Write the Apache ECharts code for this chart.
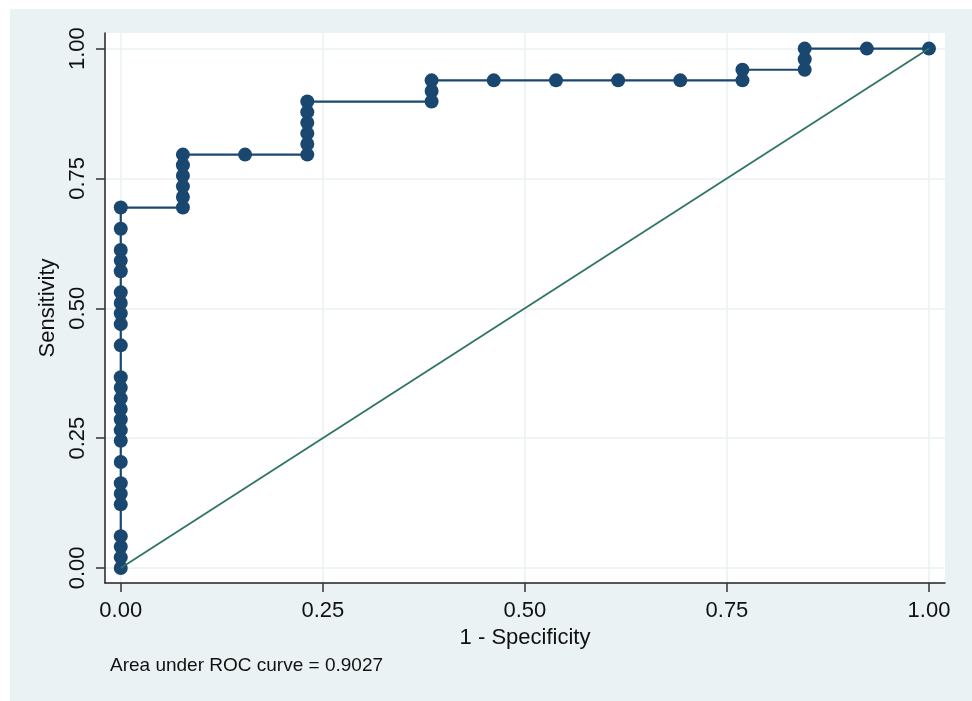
<!DOCTYPE html>
<html>
<head>
<meta charset="utf-8">
<script src="https://cdn.jsdelivr.net/npm/echarts@6/dist/echarts.min.js"></script>
<style>
html,body{margin:0;padding:0;background:#ffffff;}
#chart{width:972px;height:701px;}
</style>
</head>
<body>
<div id="chart"></div>
<script>
// 1 - Specificity values of ROC points (in order along the curve)
const fpr = [
  0,0,0,0,0,0,0,0,0,0,0,0,0,0,0,0,0,0,0,0,0,0,0,0,0,
  0.0769,0.0769,0.0769,0.0769,0.0769,0.0769,
  0.1538,
  0.2308,0.2308,0.2308,0.2308,0.2308,0.2308,
  0.3846,0.3846,0.3846,
  0.4615,0.5385,0.6154,0.6923,
  0.7692,0.7692,
  0.8462,0.8462,0.8462,
  0.9231,
  1.0
];
// Sensitivity values of ROC points
const sens = [
  0,0.0204,0.0408,0.0612,0.1224,0.1429,0.1633,0.2041,0.2449,0.2653,0.2857,0.3061,0.3265,0.3469,0.3673,0.4286,0.4694,0.4898,0.5102,0.5306,0.5714,0.5918,0.6122,0.6531,0.6939,
  0.6939,0.7143,0.7347,0.7551,0.7755,0.7959,
  0.7959,
  0.7959,0.8163,0.8367,0.8571,0.8776,0.8980,
  0.8980,0.9184,0.9388,
  0.9388,0.9388,0.9388,0.9388,
  0.9388,0.9592,
  0.9592,0.9796,1.0,
  1.0,
  1.0
];
const refX = [0, 1];
const refY = [0, 1];
const tickVals = [0, 0.25, 0.5, 0.75, 1];
const xTitle = '1 - Specificity';
const yTitle = 'Sensitivity';
const noteText = 'Area under ROC curve = 0.9027';

const FONT = '"Liberation Sans", Arial, sans-serif';
const chart = echarts.init(document.getElementById('chart'));
const rocData = fpr.map((x, i) => [x, sens[i]]);
const refData = refX.map((x, i) => [x, refY[i]]);

chart.setOption({
  animation: false,
  backgroundColor: '#ffffff',
  graphic: [
    {type: 'rect', z: -10, silent: true, shape: {x: 10, y: 9, width: 962, height: 692}, style: {fill: '#eaf2f3'}},
    {type: 'text', left: 110, top: 656, silent: true,
     style: {text: noteText, font: '19px ' + FONT, fill: '#111'}}
  ],
  grid: {left: 105, right: 27, top: 33, bottom: 118, show: true, backgroundColor: '#ffffff', borderWidth: 0},
  xAxis: {
    type: 'value', min: -0.0195, max: 1.0198,
    name: xTitle, nameLocation: 'middle', nameGap: 38,
    nameTextStyle: {fontFamily: FONT, fontSize: 22, color: '#111'},
    axisLine: {show: true, onZero: false, lineStyle: {color: '#222', width: 1.5}},
    axisTick: {show: true, length: 9, customValues: tickVals, lineStyle: {color: '#333', width: 1.5}},
    axisLabel: {customValues: tickVals, margin: 17, fontFamily: FONT, fontSize: 22, color: '#111',
      formatter: v => v.toFixed(2)},
    splitLine: {show: true, lineStyle: {color: '#eaf2f3', width: 1.5}}
  },
  yAxis: {
    type: 'value', min: -0.029, max: 1.030,
    name: yTitle, nameLocation: 'middle', nameGap: 42, nameRotate: 90,
    nameTextStyle: {fontFamily: FONT, fontSize: 22, color: '#111'},
    axisLine: {show: true, onZero: false, lineStyle: {color: '#222', width: 1.5}},
    axisTick: {show: true, length: 9, customValues: tickVals, lineStyle: {color: '#333', width: 1.5}},
    axisLabel: {customValues: tickVals, rotate: 90, margin: 16, fontFamily: FONT, fontSize: 22, color: '#111',
      formatter: v => v.toFixed(2)},
    splitLine: {show: true, lineStyle: {color: '#eaf2f3', width: 1.5}}
  },
  series: [
    {
      type: 'line', data: rocData, z: 2,
      symbol: 'circle', symbolSize: 14, showSymbol: true,
      itemStyle: {color: '#1a476f'},
      lineStyle: {color: '#1a476f', width: 2.2}
    },
    {
      type: 'line', data: refData, z: 3,
      symbol: 'none',
      lineStyle: {color: '#2f7465', width: 1.8}
    }
  ]
});
</script>
</body>
</html>
